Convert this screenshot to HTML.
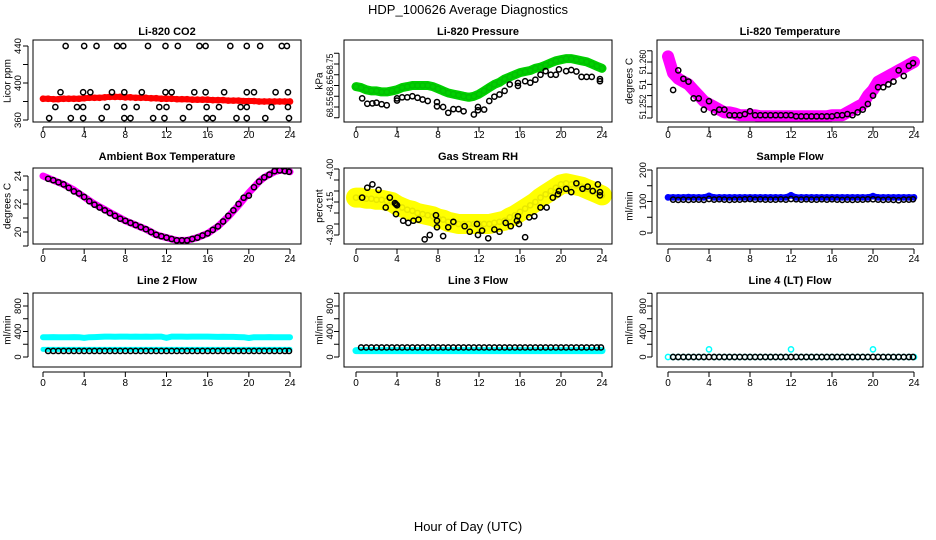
<!DOCTYPE html>
<html><head><meta charset="utf-8"><style>
html,body{margin:0;padding:0;background:#fff;}
svg{display:block;font-family:"Liberation Sans",sans-serif;}
</style></head><body>
<svg id="chart" width="936" height="540" viewBox="0 0 936 540">
<text x="468" y="14" text-anchor="middle" font-size="13">HDP_100626  Average Diagnostics</text>
<text x="468" y="531" text-anchor="middle" font-size="13">Hour of Day (UTC)</text>
</svg>
<script>
// ---------- data ----------
const hoursHalf = [0,0.5,1,1.5,2,2.5,3,3.5,4,4.5,5,5.5,6,6.5,7,7.5,8,8.5,9,9.5,10,10.5,11,11.5,12,12.5,13,13.5,14,14.5,15,15.5,16,16.5,17,17.5,18,18.5,19,19.5,20,20.5,21,21.5,22,22.5,23,23.5,24];
const hoursBlack = [0.5,1,1.5,2,2.5,3,3.5,4,4.5,5,5.5,6,6.5,7,7.5,8,8.5,9,9.5,10,10.5,11,11.5,12,12.5,13,13.5,14,14.5,15,15.5,16,16.5,17,17.5,18,18.5,19,19.5,20,20.5,21,21.5,22,22.5,23,23.5,23.9];

// CO2
const co2Red = [383,383,382.5,382.5,383,383,383,383,383.5,384,384,384,384.5,385,385,385,384.5,384.5,384,384,384,383.5,383.5,383,383,383,382.5,382.5,382.5,382,382,382,382,381.5,381.5,381.5,381,381,381,380.5,380.5,380.5,380,380,380,380,380,380,380];
const co2BlackHours = [2.2,4.0,5.2,7.2,7.8,10.2,11.9,13.1,15.2,15.8,18.2,19.8,21.1,23.2,23.7, 1.7,3.9,4.6,6.7,7.9,9.6,11.9,12.5,14.7,15.8,17.6,19.8,20.5,22.6,23.8, 1.2,3.3,3.9,6.2,7.9,9.1,11.3,12.0,14.2,15.9,17.1,19.2,19.8,22.2,23.8, 0.6,2.7,3.9,5.7,7.9,8.5,10.7,11.8,13.6,15.9,16.5,18.8,19.8,21.6,23.9];
const co2BlackValues = [440,440,440,440,440,440,440,440,440,440,440,440,440,440,440, 390,390,390,390,390,390,390,390,390,390,390,390,390,390,390, 374,374,374,374,374,374,374,374,374,374,374,374,374,374,374, 362,362,362,362,362,362,362,362,362,362,362,362,362,362,362];

// Pressure
const presGreen = [68.645,68.64,68.63,68.625,68.625,68.62,68.62,68.625,68.63,68.64,68.645,68.65,68.65,68.65,68.65,68.645,68.635,68.625,68.615,68.61,68.605,68.6,68.595,68.6,68.61,68.625,68.64,68.655,68.665,68.68,68.69,68.7,68.71,68.715,68.72,68.73,68.735,68.745,68.755,68.765,68.77,68.775,68.775,68.77,68.765,68.76,68.75,68.74,68.73];
const presBlackHours = [0.6,1.1,1.6,2.0,2.5,3.0,4.0,4.0,4.5,5.0,5.5,6.0,6.5,7.0,7.9,7.9,8.5,9.0,9.5,10.0,10.5,11.5,11.9,11.9,12.5,13.0,13.5,14.0,14.5,15.0,15.8,15.8,16.5,17.0,17.5,18.0,18.5,19.0,19.5,19.8,20.5,21.0,21.5,22.0,22.5,23.0,23.8,23.8];
const presBlackValues = [68.59,68.565,68.567,68.57,68.563,68.558,68.59,68.58,68.595,68.595,68.6,68.593,68.585,68.578,68.573,68.553,68.55,68.523,68.54,68.54,68.53,68.515,68.55,68.535,68.538,68.578,68.598,68.608,68.625,68.655,68.662,68.648,68.67,68.663,68.677,68.7,68.717,68.7,68.7,68.725,68.717,68.722,68.715,68.69,68.69,68.69,68.68,68.67];

// Li-820 temperature
const tempMag = [51.261,51.258,51.257,51.2565,51.256,51.255,51.254,51.253,51.2525,51.252,51.2515,51.251,51.251,51.2508,51.2505,51.2505,51.2505,51.2505,51.2503,51.2503,51.2503,51.2503,51.2503,51.2503,51.2503,51.2503,51.2503,51.2503,51.2503,51.2503,51.2503,51.2503,51.2505,51.2505,51.2505,51.251,51.2515,51.252,51.2525,51.254,51.255,51.2565,51.257,51.2575,51.258,51.2585,51.259,51.2595,51.26];
const tempBlack = [51.255,51.2585,51.257,51.2565,51.2535,51.2535,51.2515,51.253,51.251,51.2515,51.2515,51.2505,51.2505,51.2505,51.2507,51.2512,51.2505,51.2505,51.2505,51.2505,51.2505,51.2505,51.2505,51.2505,51.2503,51.2503,51.2503,51.2503,51.2503,51.2503,51.2503,51.2503,51.2505,51.2505,51.2507,51.2505,51.251,51.2515,51.2525,51.254,51.2555,51.2555,51.256,51.2565,51.2585,51.2575,51.2593,51.2598];

// Ambient box temperature
const ambMag = [24.0,23.85,23.7,23.55,23.4,23.2,23.0,22.75,22.5,22.25,22.0,21.8,21.6,21.4,21.2,21.0,20.8,20.65,20.5,20.35,20.2,20.0,19.8,19.7,19.6,19.5,19.4,19.4,19.4,19.5,19.6,19.75,19.9,20.15,20.4,20.75,21.1,21.5,21.9,22.35,22.8,23.2,23.6,23.9,24.1,24.3,24.4,24.4,24.3];
const ambBlack = [23.8,23.7,23.55,23.4,23.15,22.9,22.75,22.5,22.2,21.95,21.75,21.55,21.35,21.15,20.95,20.8,20.65,20.5,20.35,20.2,20.0,19.8,19.7,19.6,19.5,19.4,19.4,19.4,19.5,19.6,19.75,19.9,20.15,20.4,20.75,21.15,21.55,22.0,22.45,22.6,23.2,23.6,23.9,24.1,24.35,24.4,24.35,24.3];

// Gas stream RH
const rhYellow = [-4.13,-4.13,-4.135,-4.135,-4.14,-4.14,-4.145,-4.15,-4.165,-4.175,-4.185,-4.19,-4.2,-4.205,-4.21,-4.215,-4.225,-4.23,-4.24,-4.245,-4.25,-4.25,-4.25,-4.25,-4.25,-4.25,-4.25,-4.245,-4.24,-4.235,-4.22,-4.21,-4.195,-4.18,-4.165,-4.15,-4.13,-4.115,-4.1,-4.085,-4.07,-4.065,-4.07,-4.075,-4.08,-4.09,-4.1,-4.11,-4.12];
const rhBlackHours = [0.6,1.1,1.6,2.2,2.9,3.3,3.8,3.9,4.0,3.9,4.6,5.1,5.6,6.1,6.7,7.2,7.8,7.9,7.9,8.5,9.0,9.5,10.1,10.6,11.1,11.8,11.9,12.3,12.9,13.5,14.0,14.6,15.1,15.7,15.8,15.9,16.5,16.9,17.4,18.0,18.6,19.2,19.7,19.8,20.5,21.0,21.5,22.1,22.6,23.1,23.6,23.8,23.8];
const rhBlackValues = [-4.13,-4.085,-4.07,-4.095,-4.175,-4.13,-4.155,-4.16,-4.165,-4.205,-4.235,-4.245,-4.235,-4.23,-4.32,-4.3,-4.21,-4.235,-4.265,-4.305,-4.265,-4.24,-4.375,-4.26,-4.285,-4.25,-4.3,-4.28,-4.315,-4.275,-4.285,-4.245,-4.26,-4.235,-4.215,-4.25,-4.31,-4.22,-4.215,-4.175,-4.175,-4.13,-4.115,-4.1,-4.09,-4.105,-4.065,-4.09,-4.08,-4.1,-4.07,-4.105,-4.12];

// Flows
const sampleBlue = [113,113,113,113,114,113,113,113,118,113,113,113,113,113,113,113,113,113,113,113,113,113,113,113,120,113,113,113,113,113,113,113,113,113,113,113,113,113,113,113,117,113,113,113,113,113,113,113,113];
const sampleBlack = [106,105,106,105,106,106,105,108,106,107,106,105,106,106,107,108,106,107,106,106,106,107,106,108,107,106,107,106,106,107,106,107,106,105,106,105,106,106,107,107,106,105,106,105,104,106,106,107];
const line2CyanHigh = [310,310,312,310,310,310,312,310,300,310,312,315,320,320,318,320,320,318,320,318,320,318,320,320,300,320,320,320,318,320,320,320,320,318,315,318,315,315,312,310,298,310,310,310,312,310,310,310,310];
const line2CyanLow = [120,120,120,120,120,120,120,120,120,120,120,120,120,120,120,120,120,120,120,120,120,120,120,120,120,120,120,120,120,120,120,120,120,120,120,120,120,120,120,120,120,120,120,120,120,120,120,120,120];
const line2Black = [95,95,95,95,95,95,95,95,95,95,95,95,95,95,95,95,95,95,95,95,95,95,95,95,95,95,95,95,95,95,95,95,95,95,95,95,95,95,95,95,95,95,95,95,95,95,95,95];
const line3Cyan = [100,100,100,100,100,100,100,100,100,100,100,100,100,100,100,100,100,100,100,100,100,100,100,100,100,100,100,100,100,100,100,100,100,100,100,100,100,100,100,100,100,100,100,100,100,100,100,100,100];
const line3Black = [150,150,150,150,150,150,150,150,150,150,150,150,150,150,150,150,150,150,150,150,150,150,150,150,150,150,150,150,150,150,150,150,150,150,150,150,150,150,150,150,150,150,150,150,150,150,150,150];
const line4Cyan = [0,0,0,0,0,0,0,0,120,0,0,0,0,0,0,0,0,0,0,0,0,0,0,0,120,0,0,0,0,0,0,0,0,0,0,0,0,0,0,0,120,0,0,0,0,0,0,0,0];
const line4Black = [0,0,0,0,0,0,0,0,0,0,0,0,0,0,0,0,0,0,0,0,0,0,0,0,0,0,0,0,0,0,0,0,0,0,0,0,0,0,0,0,0,0,0,0,0,0,0,0];

const xTicks = [0,4,8,12,16,20,24];

// ---------- drawing ----------
const NS = 'http://www.w3.org/2000/svg';
const svg = document.getElementById('chart');
function mk(tag, attrs, parent){ const e=document.createElementNS(NS,tag); for(const k in attrs) e.setAttribute(k,attrs[k]); (parent||svg).appendChild(e); return e; }

const cols = [{l:33,r:301,x0:43,x24:290,ylab:8,tl:21},{l:344,r:612,x0:356,x24:602,ylab:320,tl:333},{l:657,r:923,x0:668,x24:914,ylab:630,tl:646}];
const rows = [{t:40,b:122,title:35,tick:138},{t:168,b:244,title:160,tick:262},{t:293,b:367,title:284,tick:386}];

function panel(name, ci, ri, title, ylabel, cal, yticks, ylabels){
  const c=cols[ci], r=rows[ri];
  const g = mk('g',{});
  
  
  const X = h => c.x0 + (c.x24-c.x0)*h/24;
  const Y = v => cal[0][1] + (v-cal[0][0])*(cal[1][1]-cal[0][1])/(cal[1][0]-cal[0][0]);
  const t = mk('text',{x:(c.l+c.r)/2,y:r.title,'text-anchor':'middle','font-size':11,'font-weight':'bold'},g);
  t.textContent=title;
  
  
  const yl = mk('text',{x:c.ylab,y:(r.t+r.b)/2,'text-anchor':'middle','font-size':10,transform:`rotate(-90 ${c.ylab} ${(r.t+r.b)/2})`,'dominant-baseline':'central'},g);
  yl.textContent=ylabel;
  
  
  const xa = mk('g',{},g);
  
  
  mk('line',{x1:X(0),x2:X(24),y1:r.b+5,y2:r.b+5,stroke:'#000'},xa);
  xTicks.forEach(h=>{
    mk('line',{x1:X(h),x2:X(h),y1:r.b+5,y2:r.b+10,stroke:'#000'},xa);
    const tx=mk('text',{x:X(h),y:r.tick,'text-anchor':'middle','font-size':10},xa); tx.textContent=h;
  });
  const ya = mk('g',{},g);
  
  
  mk('line',{x1:c.l-5,x2:c.l-5,y1:Y(yticks[0]),y2:Y(yticks[yticks.length-1]),stroke:'#000'},ya);
  yticks.forEach((v,i)=>{
    mk('line',{x1:c.l-10,x2:c.l-5,y1:Y(v),y2:Y(v),stroke:'#000'},ya);
    const s=ylabels[i];
    if(s!==''){
      const a={x:c.tl,y:Y(v),'text-anchor':'middle','font-size':9.5,transform:`rotate(-90 ${c.tl} ${Y(v)})`};
      if(s.length>=4){a.textLength=(s.length*4.1).toFixed(1);a.lengthAdjust='spacingAndGlyphs';}
      const ty=mk('text',a,ya);
      ty.textContent=s;
    }
  });
  const clipId='clip'+name;
  const cp=mk('clipPath',{id:clipId},g); mk('rect',{x:c.l,y:r.t,width:c.r-c.l,height:r.b-r.t},cp);
  const plot = mk('g',{'clip-path':`url(#${clipId})`},g);
  mk('rect',{x:c.l,y:r.t,width:c.r-c.l,height:r.b-r.t,fill:'none',stroke:'#000'},g);
  return {X,Y,plot};
}
function band(p, name, hrs, vals, color, width){
  const pts = hrs.map((h,i)=>p.X(h).toFixed(1)+','+p.Y(vals[i]).toFixed(1)).join(' ');
  const pl = mk('polyline',{points:pts,fill:'none',stroke:color,'stroke-width':width,'stroke-linejoin':'round','stroke-linecap':'round'},p.plot);
  
  
}
function pts(p, name, hrs, vals, color, r){
  const g = mk('g',{},p.plot);
  
  
  hrs.forEach((h,i)=>{
    const c = mk('circle',{cx:p.X(h),cy:p.Y(vals[i]),r:r||2.6,fill:'none',stroke:color,'stroke-width':1.5},g);
    
    
  });
}

let p;
p = panel('co2',0,0,'Li-820 CO2','Licor ppm',[[360,120],[440,46]],[360,380,400,420,440],['360','','400','','440']);
band(p,'co2-red',hoursHalf,co2Red,'#f00',6); pts(p,'co2-red-points',hoursHalf,co2Red,'#f00');
pts(p,'co2-black-points',co2BlackHours,co2BlackValues,'#000');

p = panel('pressure',1,0,'Li-820 Pressure','kPa',[[68.55,107],[68.75,64]],[68.5,68.55,68.6,68.65,68.7,68.75,68.8],['','68.55','','68.65','','68.75','']);
band(p,'pressure-green',hoursHalf,presGreen,'#00d000',9); pts(p,'pressure-green-points',hoursHalf,presGreen,'#00c000');
pts(p,'pressure-black-points',presBlackHours,presBlackValues,'#000');

p = panel('li820-temp',2,0,'Li-820 Temperature','degrees C',[[51.25,118],[51.26,62]],[51.25,51.252,51.254,51.256,51.258,51.26,51.262],['','51.252','','51','','51.260','']);
band(p,'li820-temp-magenta',hoursHalf,tempMag,'#f0f',12); pts(p,'li820-temp-magenta-points',hoursHalf,tempMag,'#f0f');
pts(p,'li820-temp-black-points',hoursBlack,tempBlack,'#000');

p = panel('ambient',0,1,'Ambient Box Temperature','degrees C',[[20,232],[24,176]],[19,20,21,22,23,24],['','20','','22','','24']);
band(p,'ambient-magenta',hoursHalf,ambMag,'#f0f',7);
pts(p,'ambient-black-points',hoursBlack,ambBlack,'#000');

p = panel('rh',1,1,'Gas Stream RH','percent',[[-4.0,169],[-4.3,235]],[-4.3,-4.25,-4.2,-4.15,-4.1,-4.05,-4.0],['-4.30','','','-4.15','','','-4.00']);
band(p,'rh-yellow',hoursHalf,rhYellow,'#ff0',20); pts(p,'rh-yellow-points',hoursHalf,rhYellow,'#e8e800');
pts(p,'rh-black-points',rhBlackHours,rhBlackValues,'#000');

p = panel('sample-flow',2,1,'Sample Flow','ml/min',[[0,233],[200,170]],[0,50,100,150,200],['0','','100','','200']);
band(p,'sample-flow-blue',hoursHalf,sampleBlue,'#00f',6); pts(p,'sample-flow-blue-points',hoursHalf,sampleBlue,'#00f');
pts(p,'sample-flow-black-points',hoursBlack,sampleBlack,'#000');

const flowTicks=[0,200,400,600,800,1000], flowLabels=['0','','400','','800',''];
p = panel('line2-flow',0,2,'Line 2 Flow','ml/min',[[0,357],[800,306]],flowTicks,flowLabels);
band(p,'line2-cyan-high',hoursHalf,line2CyanHigh,'#0ff',6);
band(p,'line2-cyan-low',hoursHalf,line2CyanLow,'#0ff',5);
pts(p,'line2-black-points',hoursBlack,line2Black,'#000');

p = panel('line3-flow',1,2,'Line 3 Flow','ml/min',[[0,357],[800,306]],flowTicks,flowLabels);
band(p,'line3-cyan',hoursHalf,line3Cyan,'#0ff',7);
pts(p,'line3-black-points',hoursBlack,line3Black,'#000');

p = panel('line4-flow',2,2,'Line 4 (LT) Flow','ml/min',[[0,357],[800,306]],flowTicks,flowLabels);
pts(p,'line4-cyan-points',hoursHalf,line4Cyan,'#0ff');
pts(p,'line4-black-points',hoursBlack,line4Black,'#000');
</script>
</body></html>
